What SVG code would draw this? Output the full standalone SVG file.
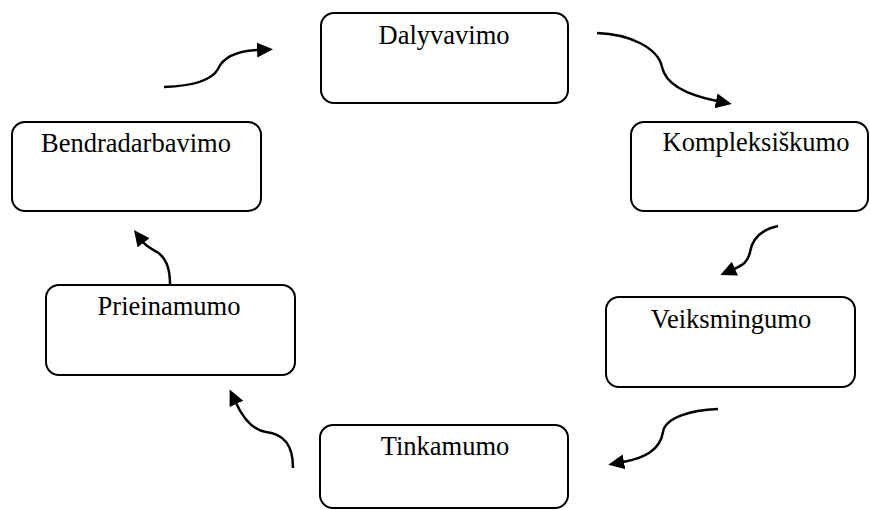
<svg xmlns="http://www.w3.org/2000/svg" width="870" height="510" viewBox="0 0 870 510">
<style>
.box{fill:#fff;stroke:#000;stroke-width:2}
.lbl{font-family:"Liberation Serif","Times New Roman",serif;font-size:26.5px;fill:#000;text-anchor:middle}
.arr{fill:none;stroke:#000;stroke-width:2.5;marker-end:url(#ah)}
</style>
<defs>
<marker id="ah" viewBox="0 -8 16 16" markerWidth="16" markerHeight="16" markerUnits="userSpaceOnUse" refX="1" refY="0" orient="auto">
<path d="M0,-7.5 L16,0 L0,7.5 z" fill="#000"/>
</marker>
</defs>
<rect width="870" height="510" fill="#fff"/>
<g id="dalyvavimo"><rect class="box" x="321" y="13" width="247" height="90" rx="13"/><text class="lbl" x="444" y="44">Dalyvavimo</text></g>
<g id="kompleksiskumo"><rect class="box" x="631" y="122" width="237" height="89" rx="13"/><text class="lbl" x="756" y="151">Kompleksiškumo</text></g>
<g id="veiksmingumo"><rect class="box" x="606" y="297" width="249" height="90" rx="13"/><text class="lbl" x="731" y="328">Veiksmingumo</text></g>
<g id="tinkamumo"><rect class="box" x="320" y="425" width="248" height="83" rx="13"/><text class="lbl" x="445" y="455">Tinkamumo</text></g>
<g id="prieinamumo"><rect class="box" x="46" y="285" width="249" height="90" rx="13"/><text class="lbl" x="169" y="315">Prieinamumo</text></g>
<g id="bendradarbavimo"><rect class="box" x="12" y="122" width="249" height="89" rx="13"/><text class="lbl" x="136" y="152">Bendradarbavimo</text></g>
<g id="connectors">
<path class="arr" d="M164,87 C192,86 212,80 218,69 C223,58 236,51 258,50"/>
<path class="arr" d="M597,33 C630,34 658,48 662,67 C666,86 692,96 717,101"/>
<path class="arr" d="M778,226 C760,230 752,240 750,252 C748,262 743,265 734,269"/>
<path class="arr" d="M718,409 C690,410 665,418 663,432 C660,450 645,458 623,462"/>
<path class="arr" d="M293,468 C293,446 285,434 266,432 C252,430 243,418 236,403"/>
<path class="arr" d="M170,284 C170,268 165,257 157,252 C150,248 146,246 143,242"/>
</g>
</svg>
